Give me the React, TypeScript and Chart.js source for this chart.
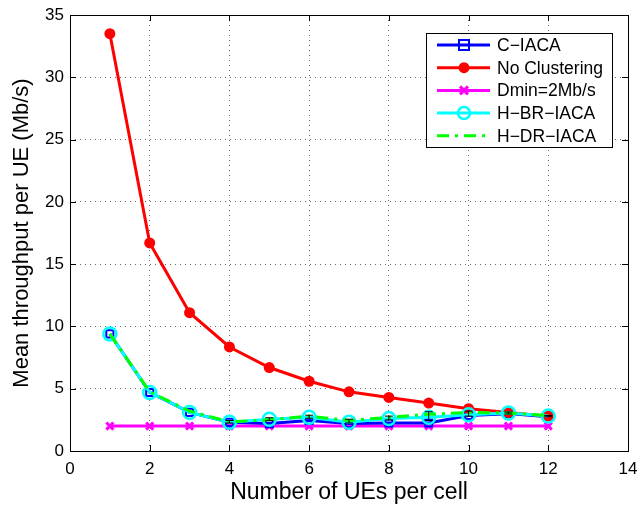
import React, { useEffect, useRef } from "react";
import { Chart, registerables } from "chart.js";

Chart.register(...registerables);

const ues = [1, 2, 3, 4, 5, 6, 7, 8, 9, 10, 11, 12];
const cIaca = [9.4, 4.7, 3.1, 2.3, 2.2, 2.45, 2.2, 2.25, 2.25, 2.85, 3.0, 2.75];
const noClustering = [33.5, 16.7, 11.1, 8.35, 6.7, 5.6, 4.75, 4.3, 3.85, 3.4, 3.1, 2.8];
const dmin = [2, 2, 2, 2, 2, 2, 2, 2, 2, 2, 2, 2];
const hBrIaca = [9.4, 4.7, 3.1, 2.3, 2.55, 2.7, 2.3, 2.6, 2.7, 2.9, 3.05, 2.8];
const hDrIaca = [9.4, 4.75, 3.2, 2.35, 2.5, 2.8, 2.45, 2.7, 2.95, 3.1, 3.05, 2.85];
// small confidence intervals around the hierarchical schemes
const errCenter = [null, null, null, 2.35, 2.55, 2.75, 2.4, 2.65, 2.8, 3.0, 3.05, 2.8];
const errHalf = [null, null, null, 0.1, 0.12, 0.12, 0.15, 0.15, 0.35, 0.2, 0.08, 0.05];

const xTicks = [0, 2, 4, 6, 8, 10, 12, 14];
const yTicks = [0, 5, 10, 15, 20, 25, 30, 35];

const FONT = "'Liberation Sans', Arial, Helvetica, sans-serif";

const legendItems = [
  { label: "C\u2212IACA", color: "#0000ff", marker: "square", dash: [] as number[] },
  { label: "No Clustering", color: "#ff0000", marker: "dot", dash: [] as number[] },
  { label: "Dmin=2Mb/s", color: "#ff00ff", marker: "x", dash: [] as number[] },
  { label: "H\u2212BR\u2212IACA", color: "#00ffff", marker: "circle", dash: [] as number[] },
  { label: "H\u2212DR\u2212IACA", color: "#00ff00", marker: "none", dash: [12, 6, 3, 6] },
];

function drawMarker(ctx: CanvasRenderingContext2D, kind: string, x: number, y: number, color: string) {
  ctx.save();
  ctx.strokeStyle = color;
  ctx.fillStyle = color;
  ctx.setLineDash([]);
  if (kind === "square") {
    ctx.lineWidth = 2;
    ctx.strokeRect(x - 5, y - 5, 10, 10);
  } else if (kind === "dot") {
    ctx.beginPath();
    ctx.arc(x, y, 5.5, 0, Math.PI * 2);
    ctx.fill();
  } else if (kind === "x") {
    ctx.lineWidth = 3;
    ctx.beginPath();
    ctx.moveTo(x - 4, y - 4);
    ctx.lineTo(x + 4, y + 4);
    ctx.moveTo(x + 4, y - 4);
    ctx.lineTo(x - 4, y + 4);
    ctx.stroke();
  } else if (kind === "circle") {
    ctx.lineWidth = 2.5;
    ctx.beginPath();
    ctx.arc(x, y, 6, 0, Math.PI * 2);
    ctx.stroke();
  }
  ctx.restore();
}

const framePlugin = {
  id: "matlabFrame",
  afterDatasetsDraw(chart: any) {
    const { ctx, scales } = chart;
    ctx.save();
    // error bars
    ctx.strokeStyle = "#000";
    ctx.lineWidth = 1;
    ues.forEach((u, i) => {
      const c = errCenter[i];
      const h = errHalf[i];
      if (c === null || h === null) return;
      const x = scales.x.getPixelForValue(u);
      const y1 = scales.y.getPixelForValue(c - h);
      const y2 = scales.y.getPixelForValue(c + h);
      ctx.beginPath();
      ctx.moveTo(x, y1);
      ctx.lineTo(x, y2);
      ctx.moveTo(x - 4, y1);
      ctx.lineTo(x + 4, y1);
      ctx.moveTo(x - 4, y2);
      ctx.lineTo(x + 4, y2);
      ctx.stroke();
    });
    ctx.restore();
  },
  afterDraw(chart: any) {
    const { ctx, chartArea: a, scales } = chart;
    ctx.save();
    ctx.strokeStyle = "#000";
    ctx.lineWidth = 1;
    ctx.setLineDash([]);
    ctx.strokeRect(a.left + 0.5, a.top + 0.5, a.right - a.left, a.bottom - a.top);
    // inward tick marks on all four sides
    ctx.beginPath();
    xTicks.forEach((t) => {
      const x = Math.round(scales.x.getPixelForValue(t)) + 0.5;
      ctx.moveTo(x, a.bottom);
      ctx.lineTo(x, a.bottom - 6);
      ctx.moveTo(x, a.top);
      ctx.lineTo(x, a.top + 6);
    });
    yTicks.forEach((t) => {
      const y = Math.round(scales.y.getPixelForValue(t)) + 0.5;
      ctx.moveTo(a.left, y);
      ctx.lineTo(a.left + 6, y);
      ctx.moveTo(a.right, y);
      ctx.lineTo(a.right - 6, y);
    });
    ctx.stroke();

    // legend box
    const lx = 426, ly = 33, lw = 186, lh = 114;
    ctx.fillStyle = "#fff";
    ctx.fillRect(lx, ly, lw, lh);
    ctx.strokeRect(lx + 0.5, ly + 0.5, lw, lh);
    ctx.font = `17.5px ${FONT}`;
    ctx.textBaseline = "middle";
    ctx.textAlign = "left";
    legendItems.forEach((it, i) => {
      const y = 45 + i * 22.7;
      ctx.strokeStyle = it.color;
      ctx.lineWidth = 3;
      ctx.setLineDash(it.dash);
      ctx.beginPath();
      ctx.moveTo(437, y);
      ctx.lineTo(490, y);
      ctx.stroke();
      ctx.setLineDash([]);
      drawMarker(ctx, it.marker, 464, y, it.color);
      ctx.fillStyle = "#000";
      ctx.fillText(it.label, 497, y + 1);
    });
    ctx.restore();
  },
};

export default function App() {
  const ref = useRef<HTMLCanvasElement | null>(null);

  useEffect(() => {
    if (!ref.current) return;
    const mk = (arr: number[]) => ues.map((u, i) => ({ x: u, y: arr[i] }));
    const chart = new Chart(ref.current, {
      type: "line",
      data: {
        datasets: [
          {
            label: "C-IACA",
            data: mk(cIaca),
            borderColor: "#0000ff",
            backgroundColor: "rgba(0,0,0,0)",
            borderWidth: 3,
            pointStyle: "rect",
            pointRadius: 5,
            pointBorderWidth: 2,
            pointBorderColor: "#0000ff",
            order: 4,
          },
          {
            label: "No Clustering",
            data: mk(noClustering),
            borderColor: "#ff0000",
            backgroundColor: "#ff0000",
            borderWidth: 3,
            pointStyle: "circle",
            pointRadius: 5.5,
            pointBackgroundColor: "#ff0000",
            pointBorderWidth: 0,
            order: 3,
          },
          {
            label: "Dmin=2Mb/s",
            data: mk(dmin),
            borderColor: "#ff00ff",
            backgroundColor: "#ff00ff",
            borderWidth: 3,
            pointStyle: "crossRot",
            pointRadius: 5,
            pointBorderWidth: 3,
            pointBorderColor: "#ff00ff",
            order: 5,
          },
          {
            label: "H-BR-IACA",
            data: mk(hBrIaca),
            borderColor: "#00ffff",
            backgroundColor: "rgba(0,0,0,0)",
            borderWidth: 3,
            pointStyle: "circle",
            pointRadius: 6.5,
            pointBorderWidth: 2.5,
            pointBorderColor: "#00ffff",
            order: 2,
          },
          {
            label: "H-DR-IACA",
            data: mk(hDrIaca),
            borderColor: "#00ff00",
            backgroundColor: "#00ff00",
            borderWidth: 3,
            borderDash: [12, 6, 3, 6],
            pointRadius: 0,
            order: 1,
          },
        ],
      },
      options: {
        animation: false,
        responsive: false,
        maintainAspectRatio: false,
        layout: { padding: { left: 0, right: 11, top: 15, bottom: 0 } },
        plugins: { legend: { display: false }, tooltip: { enabled: false } },
        scales: {
          x: {
            type: "linear",
            min: 0,
            max: 14,
            afterBuildTicks: (s: any) => {
              s.ticks = xTicks.map((v) => ({ value: v }));
            },
            afterFit: (s: any) => {
              s.height = 58;
              s.paddingLeft = 0;
              s.paddingRight = 0;
            },
            grid: {
              color: "#666",
              lineWidth: 1,
              drawTicks: false,
            },
            border: { display: false, dash: [1, 4] },
            ticks: {
              color: "#000",
              padding: 8,
              font: { family: FONT, size: 17 },
              maxRotation: 0,
            },
            title: {
              display: true,
              text: "Number of UEs per cell",
              color: "#000",
              font: { family: FONT, size: 23 },
              padding: { top: 0, bottom: 3 },
            },
          },
          y: {
            type: "linear",
            min: 0,
            max: 35,
            afterBuildTicks: (s: any) => {
              s.ticks = yTicks.map((v) => ({ value: v }));
            },
            afterFit: (s: any) => {
              s.width = 70;
              s.paddingTop = 0;
              s.paddingBottom = 0;
            },
            grid: {
              color: "#666",
              lineWidth: 1,
              drawTicks: false,
            },
            border: { display: false, dash: [1, 4] },
            ticks: {
              color: "#000",
              padding: 6,
              font: { family: FONT, size: 17 },
            },
            title: {
              display: true,
              text: "Mean throughput per UE (Mb/s)",
              color: "#000",
              font: { family: FONT, size: 22 },
              padding: { top: 9, bottom: 0 },
            },
          },
        },
      },
      plugins: [framePlugin],
    } as any);
    return () => chart.destroy();
  }, []);

  return (
    <div style={{ position: "fixed", left: 0, top: 0, width: 639, height: 509, background: "#fff" }}>
      <canvas ref={ref} width={639} height={509} style={{ width: 639, height: 509 }} />
    </div>
  );
}
